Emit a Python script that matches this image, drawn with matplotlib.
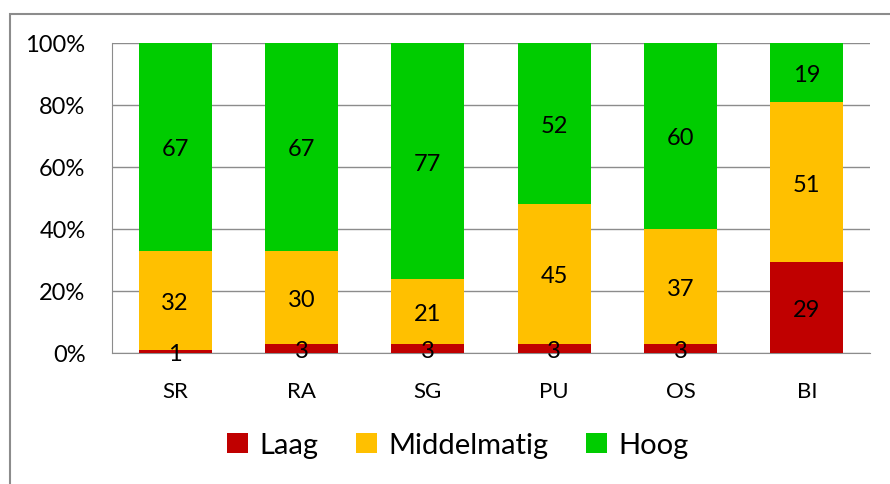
import matplotlib.pyplot as plt
import numpy as np
from matplotlib.patches import Rectangle

plt.rcParams['font.family'] = ['Lato', 'DejaVu Sans']

categories = ["SR", "RA", "SG", "PU", "OS", "BI"]
laag = [1, 3, 3, 3, 3, 29]
middel = [32, 30, 21, 45, 37, 51]
hoog = [67, 67, 77, 52, 60, 19]
series_names = ["Laag", "Middelmatig", "Hoog"]
colors = ["#C00000", "#FFC000", "#00CC00"]

data = np.array([laag, middel, hoog], dtype=float)
totals = data.sum(axis=0)
shares = data / totals * 100

fig = plt.figure(figsize=(8.9, 4.85), dpi=100)
ax = fig.add_axes([112/890, 1 - 354/485, 758/890, 310/485])

# rand om de figuur
fig.patches.append(Rectangle((10/890, -0.1), 1.0, 1 - 15/485 + 0.1, transform=fig.transFigure,
                             fill=False, edgecolor="#8c8c8c", linewidth=1.5))

x = np.arange(len(categories))
bottom = np.zeros(len(categories))
for i in range(3):
    bars = ax.bar(x, shares[i], 0.58, bottom=bottom, color=colors[i], label=series_names[i], zorder=3)
    for j, b in enumerate(bars):
        ax.text(b.get_x() + b.get_width()/2, bottom[j] + shares[i][j]/2, str(int(data[i][j])),
                ha="center", va="center_baseline", fontsize=17, zorder=4)
    bottom += shares[i]

ax.set_xlim(-0.5, len(categories) - 0.5)
ax.set_ylim(0, 100)
ax.set_yticks(range(0, 101, 20))
ax.set_yticklabels([f"{v}%" for v in range(0, 101, 20)], fontsize=17)
ax.set_xticks(x)
ax.set_xticklabels(categories, fontsize=16)
ax.tick_params(axis="both", length=0)
ax.tick_params(axis="y", pad=19)
ax.tick_params(axis="x", pad=20)
ax.grid(axis="y", color="#8c8c8c", linewidth=1, zorder=0)
for s in ["top", "right"]:
    ax.spines[s].set_visible(False)
ax.spines["left"].set_color("#8c8c8c")
ax.spines["bottom"].set_color("#8c8c8c")

fig.legend(*ax.get_legend_handles_labels(), loc="center", bbox_to_anchor=(458/890, 1 - 446/485),
           ncol=3, frameon=False, fontsize=21,
           handlelength=0.7, handleheight=0.7, handletextpad=0.4, columnspacing=1.3)

fig.savefig("out.png", dpi=100)
